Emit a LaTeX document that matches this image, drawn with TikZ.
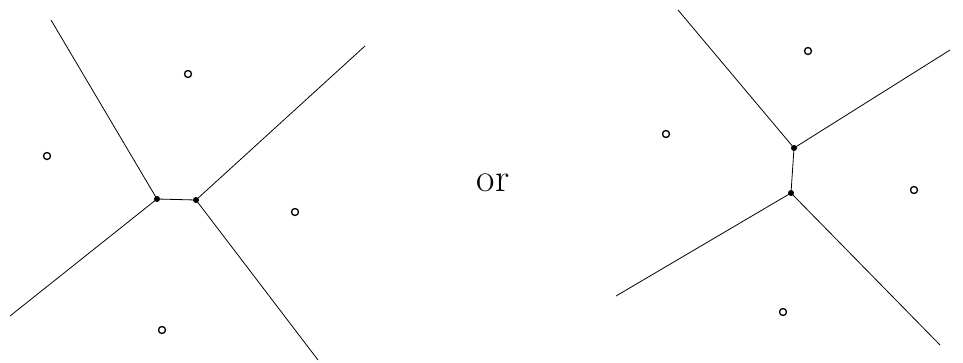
\documentclass[tikz,border=0pt]{standalone}
\begin{document}
\begin{tikzpicture}[x=1pt,y=-1pt,
  edge/.style={line width=0.8pt},
  vtx/.style={circle,fill=black,inner sep=0pt,minimum size=6pt},
  site/.style={circle,draw=black,line width=1.3pt,inner sep=0pt,minimum size=7pt},
  endp/.style={inner sep=0pt,outer sep=0pt}]
\useasboundingbox (0,0) rectangle (963,362);
% left diagram
\node[vtx] (a) at (157,199) {};
\node[vtx] (b) at (196,200) {};
\coordinate (a1) at (51,20);
\coordinate (a2) at (10,316);
\coordinate (b1) at (365,46);
\coordinate (b2) at (318,360);
\draw[edge] (a.center) -- (a1);
\draw[edge] (a.center) -- (a2);
\draw[edge] (b.center) -- (b1);
\draw[edge] (b.center) -- (b2);
\draw[edge] (a) -- (b);
\node[site] (s1) at (188,74) {};
\node[site] (s2) at (47,156) {};
\node[site] (s3) at (295,212) {};
\node[site] (s4) at (162,330) {};
% or
\node (or) at (493,183) {\fontsize{40}{48}\selectfont or};
% right diagram
\node[vtx] (c) at (794,148) {};
\node[vtx] (d) at (791,193) {};
\coordinate (c1) at (678,10);
\coordinate (c2) at (950,50);
\coordinate (d1) at (616,296);
\coordinate (d2) at (940,345);
\draw[edge] (c.center) -- (c1);
\draw[edge] (c.center) -- (c2);
\draw[edge] (d.center) -- (d1);
\draw[edge] (d.center) -- (d2);
\draw[edge] (c) -- (d);
\node[site] (t1) at (808,51) {};
\node[site] (t2) at (666,134) {};
\node[site] (t3) at (914,190) {};
\node[site] (t4) at (783,312) {};
\end{tikzpicture}
\end{document}
